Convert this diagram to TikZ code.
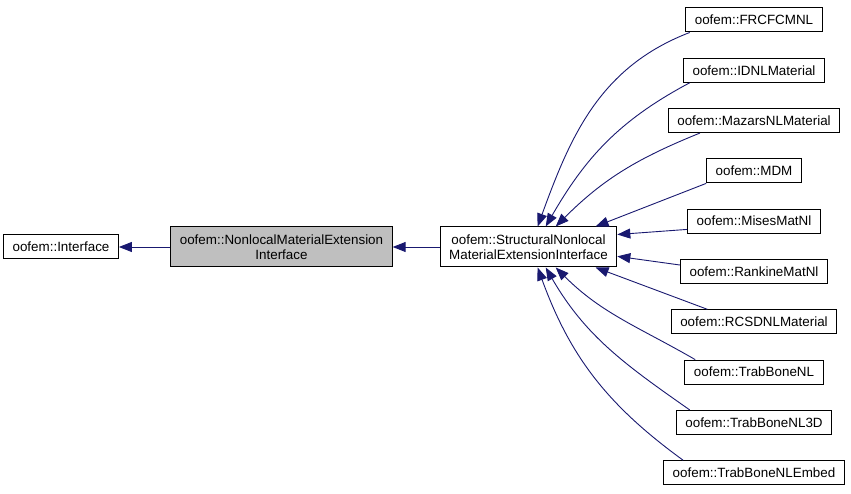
\documentclass[tikz,border=0pt]{standalone}
\usepackage{fontspec}
\setmainfont{Liberation Sans}
\usetikzlibrary{arrows.meta}
\definecolor{edgeblue}{HTML}{191970}
\definecolor{boxgray}{HTML}{BFBFBF}
\begin{document}
\begin{tikzpicture}[x=1pt,y=1pt,line width=1pt,font=\fontsize{13.4}{15}\selectfont,
  cls/.style={draw=black,fill=white,inner xsep=9pt,inner ysep=0pt,minimum height=24pt,align=center},
  twoline/.style={cls,minimum height=40pt},
  edge/.style={draw=edgeblue,line width=.9pt,-{Triangle[length=13pt,width=10pt]}}]
  \useasboundingbox (0,0) rectangle (851,493);
  % base classes
  \node[cls] (iface) at (61,246) {oofem::Interface};
  \node[twoline,fill=boxgray] (nmei) at (281.5,246) {oofem::NonlocalMaterialExtension\\Interface};
  \node[twoline] (snm) at (528.5,246) {oofem::StructuralNonlocal\\MaterialExtensionInterface};
  % derived classes
  \node[cls] (frc) at (754,473) {oofem::FRCFCMNL};
  \node[cls] (idnl) at (754,422.7) {oofem::IDNLMaterial};
  \node[cls] (maz) at (754,372.4) {oofem::MazarsNLMaterial};
  \node[cls] (mdm) at (754,322.1) {oofem::MDM};
  \node[cls] (mises) at (754,271.8) {oofem::MisesMatNl};
  \node[cls] (rank) at (754,221.5) {oofem::RankineMatNl};
  \node[cls] (rcs) at (754,171.2) {oofem::RCSDNLMaterial};
  \node[cls] (tbn) at (754,120.9) {oofem::TrabBoneNL};
  \node[cls] (tb3) at (754,70.6) {oofem::TrabBoneNL3D};
  \node[cls] (tbe) at (754,20.3) {oofem::TrabBoneNLEmbed};
  % inheritance
  \draw[edge] (nmei.west) -- (iface.east);
  \draw[edge] (snm.west) -- (nmei.east);
  \draw[edge] (frc.191) to[out=201,in=70] (snm.66);
  \draw[edge] (idnl.191) to[out=208,in=60] (snm.50);
  \draw[edge] (maz.193) to[out=202,in=45] (snm.37);
  \draw[edge] (mdm.south west) -- (snm.17);
  \draw[edge] (mises.187) -- (snm.8);
  \draw[edge] (rank.175) -- (snm.-6);
  \draw[edge] (rcs.165) -- (snm.-17);
  \draw[edge] (tbn.168) to[out=150,in=-45] (snm.-37);
  \draw[edge] (tb3.169) to[out=145,in=-60] (snm.-50);
  \draw[edge] (tbe.170) to[out=144,in=-70] (snm.-66);
\end{tikzpicture}
\end{document}
